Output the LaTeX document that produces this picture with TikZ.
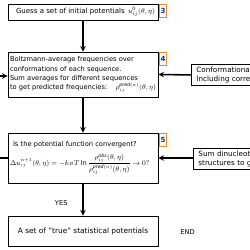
\documentclass[tikz,border=0pt]{standalone}
\usepackage{amsmath}
\usepackage{fontspec}
\setmainfont{DejaVu Sans}
\usetikzlibrary{arrows, positioning}
\definecolor{badgeorange}{RGB}{236,140,40}
\definecolor{badgeblue}{RGB}{20,40,140}
\tikzstyle{stepbox} = [rectangle, draw=black, line width=1pt, minimum width=6cm, inner sep=0pt, font=\fontsize{7.6}{10.6}\selectfont]
\tikzstyle{sidebox} = [rectangle, draw=black, line width=1pt, anchor=north west, inner sep=0pt, text width=4.2cm, minimum height=0.84cm, font=\fontsize{8.2}{10}\selectfont]
\tikzstyle{badge} = [rectangle, draw=badgeorange, line width=0.9pt, fill=white, anchor=north west, minimum width=0.26cm, minimum height=0.5cm, inner sep=0pt, text=badgeblue, font=\fontsize{8}{9}\selectfont\bfseries]
\tikzstyle{arrow} = [line width=1.8pt,->,>=stealth]

\begin{document}
\begin{tikzpicture}
    \useasboundingbox (0,0) rectangle (10,-10);
    \clip (0,0) rectangle (10,-10);

    % Main steps
    \node[stepbox, minimum height=0.64cm, text width=5.76cm] (guess) at (3.32,-0.48)
        {\fontsize{8}{10}\selectfont\hspace*{0.2cm}Guess a set of initial potentials\hfill$u_{ij}^{0}(\theta,\eta)$};
    \node[stepbox, minimum height=1.8cm, text width=5.84cm] (boltz) at (3.32,-2.98)
        {Boltzmann-average frequencies over\\
         conformations of each sequence.\\
         Sum averages for different sequences\\
         to get predicted frequencies: \hfill $\rho_{ij}^{\mathit{pred}(n)}(\theta,\eta)$};
    \node[stepbox, minimum height=2cm, text width=5.84cm] (conv) at (3.32,-6.32)
        {\hspace*{0.12cm}Is the potential function convergent?\\[5pt]
         $\Delta u_{ij}^{n+1}(\theta,\eta)=-k_BT\ln\dfrac{\rho_{ij}^{\mathit{obs}}(\theta,\eta)}{\rho_{ij}^{\mathit{pred}(n)}(\theta,\eta)}\rightarrow 0?$};
    \node[stepbox, minimum height=1.2cm, align=center] (final) at (3.32,-9.24)
        {\fontsize{8.4}{10}\selectfont A set of "true" statistical potentials};

    % Step badges
    \node[badge] (b3) at ([xshift=0.04cm,yshift=-0.02cm]guess.north east) {3};
    \node[badge] (b4) at ([xshift=0.04cm,yshift=-0.02cm]boltz.north east) {4};
    \node[badge] (b5) at ([xshift=0.04cm,yshift=-0.02cm]conv.north east) {5};

    % Inputs on the right
    \node[sidebox] (confs) at (7.64,-2.56)
        {\hspace*{0.2cm}Conformational\\ \hspace*{0.2cm}Including correlations};
    \node[sidebox] (sumdi) at (7.72,-5.92)
        {\hspace*{0.2cm}Sum dinucleotide\\ \hspace*{0.2cm}structures to get};

    % Labels
    \node (yes) at (2.45,-8.12) {\fontsize{7.6}{9}\selectfont YES};
    \node (end) at (7.5,-9.3) {\fontsize{7.6}{9}\selectfont END};

    % Loop ends at the left edge
    \coordinate (loopin) at (0,-3.04);
    \coordinate (loopout) at (0,-6.32);

    % Arrows
    \draw[arrow] (guess) -- (boltz);
    \draw[arrow] (boltz) -- (conv);
    \draw[arrow] (conv) -- (final);
    \draw[arrow] (confs.west) -- (boltz.east);
    \draw[arrow] (sumdi.west |- conv.east) -- (conv.east);
    \draw[arrow] (loopin) -- (loopin -| boltz.west);
    \draw[line width=1.8pt] (conv.west) -- (loopout);
\end{tikzpicture}
\end{document}
